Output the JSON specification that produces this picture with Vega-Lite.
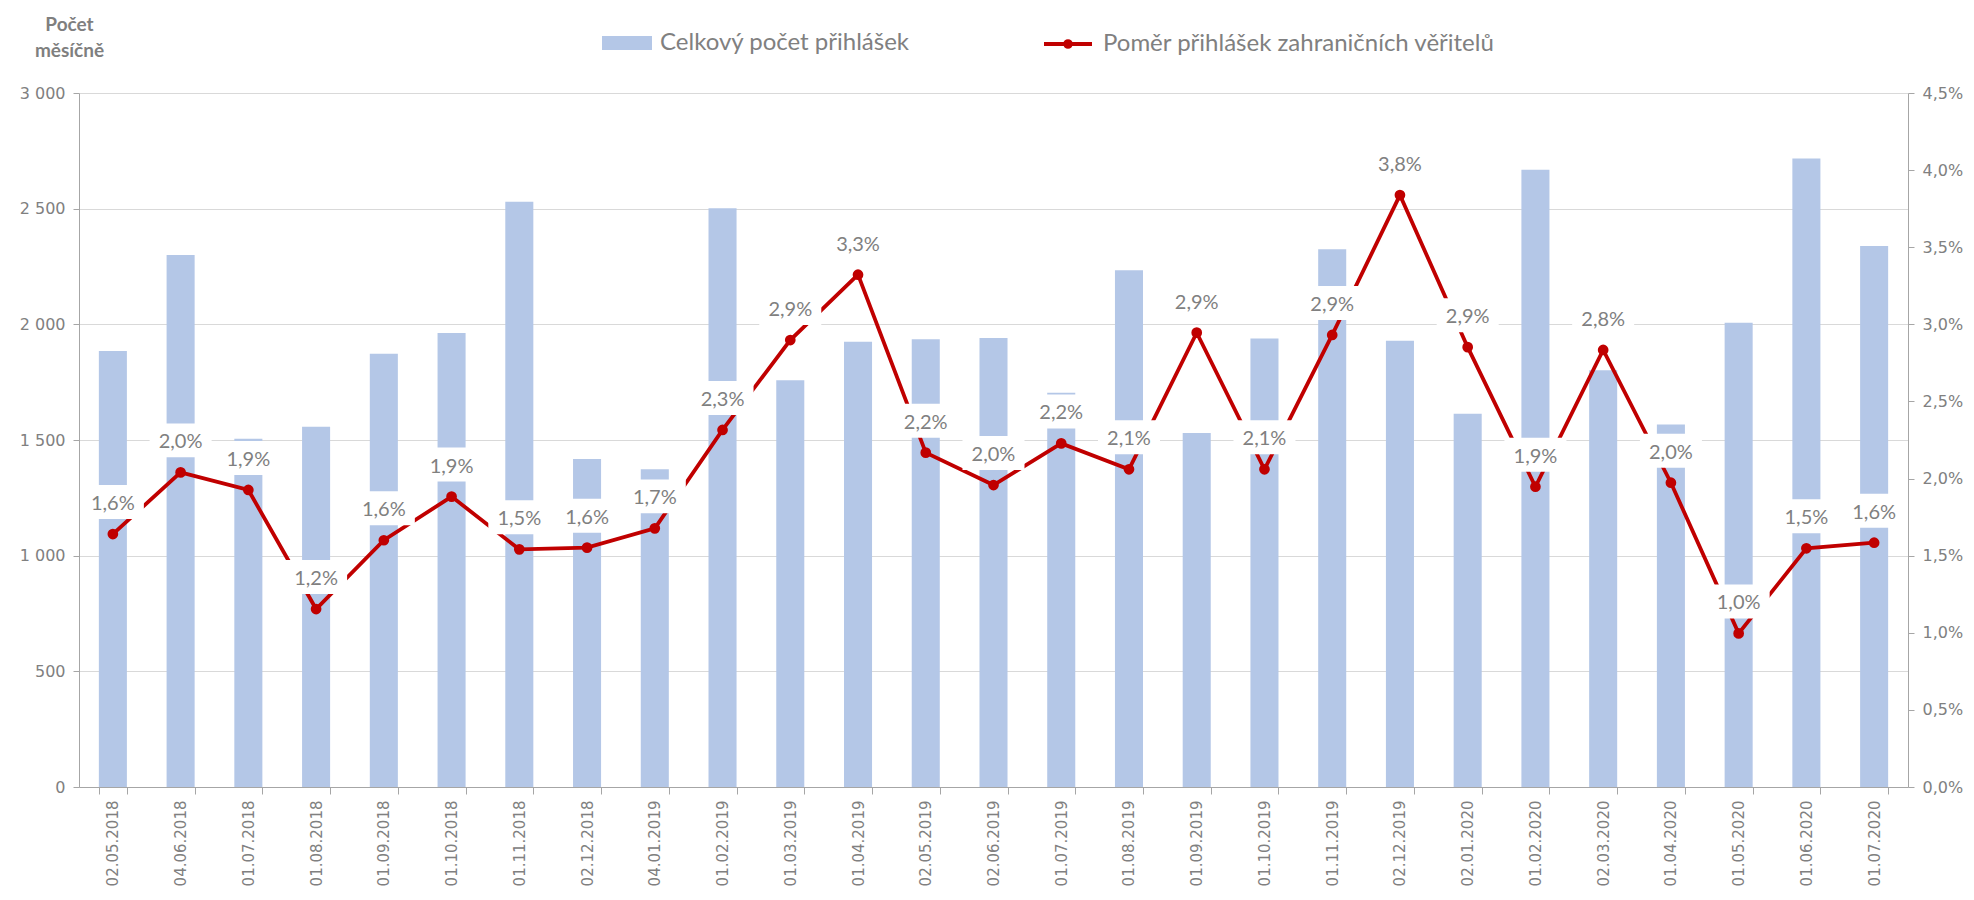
{
  "$schema": "https://vega.github.io/schema/vega-lite/v6.json",
  "width": 1829,
  "height": 694,
  "autosize": {"type": "none"},
  "padding": {"left": 79, "top": 93, "right": 66, "bottom": 113},
  "background": "white",
  "config": {
    "locale": {"number": {"decimal": ",", "thousands": "\u00a0", "grouping": [3], "currency": ["", " Kč"]}},
    "view": {"stroke": null},
    "axis": {
      "domainColor": "#a6a6a6",
      "tickColor": "#a6a6a6",
      "labelColor": "#808080",
      "labelFont": "DejaVu Sans",
      "gridColor": "#d9d9d9",
      "gridWidth": 1
    }
  },
  "data": {
    "values": [
      {"datum": "02.05.2018", "pocet": 1885, "pomer": 0.0164},
      {"datum": "04.06.2018", "pocet": 2300, "pomer": 0.0204},
      {"datum": "01.07.2018", "pocet": 1505, "pomer": 0.01926},
      {"datum": "01.08.2018", "pocet": 1557, "pomer": 0.01154},
      {"datum": "01.09.2018", "pocet": 1873, "pomer": 0.016},
      {"datum": "01.10.2018", "pocet": 1962, "pomer": 0.01883},
      {"datum": "01.11.2018", "pocet": 2530, "pomer": 0.01541},
      {"datum": "02.12.2018", "pocet": 1418, "pomer": 0.01552},
      {"datum": "04.01.2019", "pocet": 1374, "pomer": 0.01677},
      {"datum": "01.02.2019", "pocet": 2502, "pomer": 0.02315},
      {"datum": "01.03.2019", "pocet": 1758, "pomer": 0.02898},
      {"datum": "01.04.2019", "pocet": 1925, "pomer": 0.03322},
      {"datum": "02.05.2019", "pocet": 1935, "pomer": 0.02168},
      {"datum": "02.06.2019", "pocet": 1941, "pomer": 0.01958},
      {"datum": "01.07.2019", "pocet": 1704, "pomer": 0.02228},
      {"datum": "01.08.2019", "pocet": 2234, "pomer": 0.0206},
      {"datum": "01.09.2019", "pocet": 1530, "pomer": 0.02946},
      {"datum": "01.10.2019", "pocet": 1939, "pomer": 0.0206},
      {"datum": "01.11.2019", "pocet": 2325, "pomer": 0.02931},
      {"datum": "02.12.2019", "pocet": 1929, "pomer": 0.03838},
      {"datum": "02.01.2020", "pocet": 1613, "pomer": 0.02852},
      {"datum": "01.02.2020", "pocet": 2668, "pomer": 0.01947},
      {"datum": "02.03.2020", "pocet": 1802, "pomer": 0.02834},
      {"datum": "01.04.2020", "pocet": 1567, "pomer": 0.01973},
      {"datum": "01.05.2020", "pocet": 2007, "pomer": 0.00996},
      {"datum": "01.06.2020", "pocet": 2717, "pomer": 0.01548},
      {"datum": "01.07.2020", "pocet": 2339, "pomer": 0.01584}
    ]
  },
  "layer": [
    {
      "mark": {"type": "bar"},
      "encoding": {
        "x": {
          "field": "datum", "type": "ordinal", "sort": null,
          "scale": {"paddingInner": 0.586, "paddingOuter": 0.293},
          "axis": {
            "title": null, "labelAngle": 270, "labelFontSize": 15, "labelFont": "DejaVu Sans",
            "tickBand": "extent", "tickSize": 7, "labelPadding": 6, "grid": false
          }
        },
        "y": {
          "field": "pocet", "type": "quantitative",
          "scale": {"domain": [0, 3000], "nice": false},
          "axis": {
            "orient": "left",
            "values": [0, 500, 1000, 1500, 2000, 2500, 3000],
            "format": ",d", "labelFont": "DejaVu Sans",
            "labelFontSize": 16, "tickSize": 6, "labelPadding": 8,
            "grid": true,
            "title": ["Počet", "měsíčně"],
            "titleFont": "Lato", "titleFontSize": 19, "titleFontWeight": "bold",
            "titleColor": "#7f7f7f", "titleAngle": 0, "titleAlign": "center",
            "titleBaseline": "top", "titleX": -10, "titleY": -78, "titleLineHeight": 26
          }
        },
        "fill": {
          "datum": "Celkový počet přihlášek", "type": "nominal",
          "scale": {"range": ["#b4c7e7"]},
          "legend": {
            "orient": "none", "legendX": 523, "legendY": -75, "title": null, "padding": 0,
            "symbolType": "M-1,-0.28H1V0.28H-1Z", "symbolSize": 2500, "symbolStrokeWidth": 0,
            "labelOffset": 8, "labelFont": "Lato", "labelFontSize": 24, "labelColor": "#808080", "labelLimit": 0
          }
        }
      }
    },
    {
      "encoding": {
        "x": {"field": "datum", "type": "ordinal", "sort": null},
        "y": {
          "field": "pomer", "type": "quantitative",
          "scale": {"domain": [0, 0.045], "nice": false},
          "axis": {
            "orient": "right",
            "values": [0, 0.005, 0.01, 0.015, 0.02, 0.025, 0.03, 0.035, 0.04, 0.045],
            "format": ".1%", "labelFont": "DejaVu Sans", "labelFontSize": 16, "tickSize": 6, "labelPadding": 8,
            "grid": false, "title": null
          }
        }
      },
      "layer": [
        {
          "mark": {"type": "line", "strokeWidth": 3.8},
          "encoding": {
            "stroke": {
              "datum": "Poměr přihlášek zahraničních věřitelů", "type": "nominal",
              "scale": {"range": ["#c00000"]},
              "legend": {
                "orient": "none", "legendX": 963, "legendY": -75, "title": null, "padding": 0,
                "symbolType": "M-1,0H1M-0.12,0A0.12,0.12,0,1,0,0.12,0A0.12,0.12,0,1,0,-0.12,0Z",
                "symbolSize": 2304, "symbolStrokeWidth": 3.8, "symbolFillColor": "#c00000",
                "labelOffset": 9, "labelFont": "Lato", "labelFontSize": 24, "labelColor": "#808080", "labelLimit": 0
              }
            }
          }
        },
        {
          "mark": {"type": "point", "filled": true, "color": "#c00000", "opacity": 1, "size": 115},
          "encoding": {}
        },
        {
          "mark": {
            "type": "point", "filled": true, "fill": "white", "opacity": 1, "strokeWidth": 0,
            "shape": "M-1,-0.548H1V0.548H-1Z", "size": 3844, "yOffset": -32
          },
          "encoding": {}
        },
        {
          "mark": {"type": "text", "dy": -30, "font": "Lato", "fontSize": 20, "color": "#808080", "baseline": "middle"},
          "encoding": {"text": {"field": "pomer", "type": "quantitative", "format": ".1%"}}
        }
      ]
    }
  ],
  "resolve": {"scale": {"y": "independent"}}
}
